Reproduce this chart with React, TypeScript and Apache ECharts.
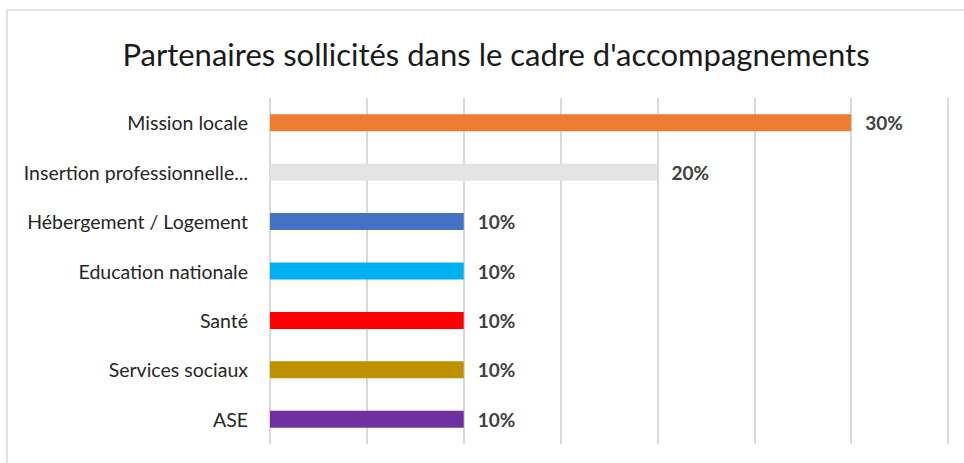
import React, { useEffect, useRef } from "react";
import * as echarts from "echarts";

const titleText = "Partenaires sollicités dans le cadre d'accompagnements";
const categories = [
  "Mission locale",
  "Insertion professionnelle...",
  "Hébergement / Logement",
  "Education nationale",
  "Santé",
  "Services sociaux",
  "ASE",
];
const values = [30, 20, 10, 10, 10, 10, 10];
const colors = ["#ED7D31", "#E4E4E4", "#4472C4", "#00B0F0", "#FF0000", "#BF9000", "#7030A0"];
const axisMin = 0;
const axisMax = 35;
const axisStep = 5;

const FONT = "Lato, 'Open Sans', sans-serif";

export default function App() {
  const ref = useRef<HTMLDivElement>(null);
  useEffect(() => {
    if (!ref.current) return;
    const chart = echarts.init(ref.current, undefined, { renderer: "svg" });
    chart.setOption({
      animation: false,
      backgroundColor: "#ffffff",
      title: {
        text: titleText,
        left: 491,
        textAlign: "center",
        top: 33,
        textStyle: { fontFamily: FONT, fontSize: 31, fontWeight: "normal", color: "#1a1a1a" },
      },
      graphic: [
        {
          type: "rect",
          shape: { x: 7, y: 10, width: 1000, height: 500 },
          style: { fill: "none", stroke: "#d9d9d9", lineWidth: 1.5 },
          silent: true,
        },
      ],
      grid: { left: 270, right: 16, top: 98, bottom: 19, containLabel: false },
      xAxis: {
        type: "value",
        min: axisMin,
        max: axisMax,
        interval: axisStep,
        axisLabel: { show: false },
        axisLine: { show: false },
        axisTick: { show: false },
        splitLine: { show: true, lineStyle: { color: "#d9d9d9", width: 2 } },
      },
      yAxis: {
        type: "category",
        data: categories,
        inverse: true,
        axisLine: { show: false },
        axisTick: { show: false },
        axisLabel: { fontFamily: FONT, fontSize: 19.5, color: "#262626", margin: 22 },
      },
      series: [
        {
          type: "bar",
          data: values.map((v, i) => ({ value: v, itemStyle: { color: colors[i] } })),
          barWidth: 17,
          label: {
            show: true,
            position: "right",
            distance: 14,
            formatter: (p: any) => `${p.value}%`,
            fontFamily: FONT,
            fontSize: 19,
            fontWeight: "bold",
            color: "#404040",
          },
        },
      ],
    });
    return () => chart.dispose();
  }, []);
  return (
    <div
      ref={ref}
      style={{ position: "fixed", left: 0, top: 0, width: 964, height: 463 }}
    />
  );
}
